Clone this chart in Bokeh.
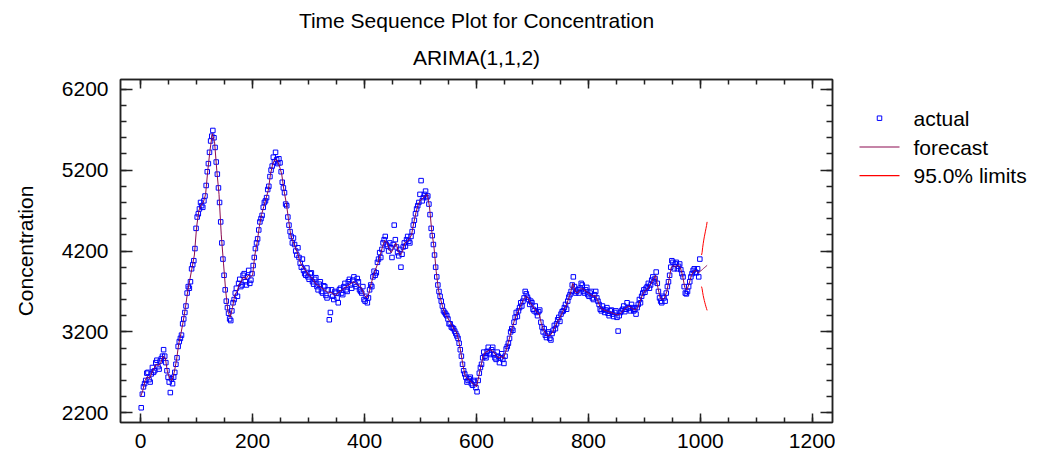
from bokeh.plotting import figure
from bokeh.models import Range1d, LinearAxis, Title, FixedTicker
from bokeh.core.properties import value
from bokeh.layouts import row
from bokeh.embed import file_html
from bokeh.resources import INLINE

# ---------------- data ----------------
# observed series (every 2nd period, read from the chart)
actual_time = list(range(1, 1000, 2))
actual = [
    2262, 2430, 2520, 2560, 2600, 2690, 2700, 2610, 2580, 2680, 2760, 2700, 2720, 2820, 2850, 2770, 2740, 2840, 2870, 2900,
    2980, 2900, 2820, 2720, 2640, 2580, 2450, 2620, 2560, 2640, 2700, 2800, 2880, 3020, 3080, 3120, 3160, 3300, 3360, 3440,
    3520, 3680, 3760, 3740, 3820, 3980, 4030, 4080, 4230, 4480, 4620, 4660, 4720, 4800, 4760, 4740, 4820, 4880, 5010, 5180,
    5280, 5420, 5560, 5620, 5690, 5600, 5480, 5300, 5150, 4980, 4800, 4560, 4300, 4100, 3900, 3720, 3580, 3500, 3430, 3360,
    3340, 3460, 3560, 3600, 3680, 3740, 3640, 3800, 3850, 3760, 3780, 3900, 3920, 3820, 3780, 3880, 3960, 3800, 3840, 3920,
    4020, 4120, 4230, 4300, 4350, 4460, 4560, 4600, 4640, 4740, 4800, 4820, 4860, 4960, 5000, 5120, 5200, 5250, 5360, 5300,
    5420, 5330, 5280, 5340, 5290, 5180, 5050, 4980, 4920, 4780, 4760, 4620, 4520, 4440, 4380, 4300, 4360, 4280, 4200, 4150,
    4240, 4120, 4050, 4000, 4100, 3960, 3920, 3900, 3990, 3880, 3850, 3920, 3930, 3820, 3790, 3850, 3870, 3760, 3720, 3790,
    3820, 3700, 3680, 3770, 3760, 3650, 3620, 3720, 3350, 3440, 3720, 3640, 3600, 3700, 3680, 3620, 3560, 3720, 3740, 3680,
    3660, 3760, 3800, 3720, 3700, 3820, 3850, 3780, 3740, 3840, 3880, 3790, 3760, 3860, 3820, 3720, 3700, 3680, 3760, 3600,
    3580, 3640, 3560, 3620, 3720, 3780, 3760, 3880, 3950, 3900, 3930, 4060, 4100, 4180, 4120, 4220, 4300, 4340, 4380, 4280,
    4260, 4200, 4300, 4240, 4120, 4280, 4520, 4340, 4250, 4180, 4140, 4220, 4000, 4160, 4250, 4300, 4260, 4340, 4380, 4320,
    4300, 4380, 4440, 4520, 4580, 4660, 4720, 4760, 4800, 4900, 5070, 4820, 4860, 4900, 4940, 4860, 4880, 4780, 4650, 4480,
    4390, 4280, 4150, 4000, 3880, 3780, 3700, 3640, 3580, 3520, 3460, 3440, 3420, 3400, 3360, 3300, 3300, 3260, 3250, 3240,
    3210, 3180, 3150, 3120, 3060, 2980, 2900, 2800, 2720, 2680, 2640, 2580, 2600, 2620, 2640, 2560, 2540, 2600, 2580, 2510,
    2460, 2600, 2690, 2760, 2800, 2880, 2950, 2900, 2880, 2960, 3010, 2940, 2920, 2980, 3010, 2920, 2880, 2860, 2950, 2900,
    2820, 2880, 2930, 2860, 2810, 2900, 2990, 3020, 3060, 3120, 3200, 3240, 3220, 3320, 3380, 3440, 3390, 3460, 3500, 3560,
    3520, 3580, 3620, 3700, 3670, 3630, 3600, 3540, 3580, 3560, 3480, 3460, 3520, 3440, 3400, 3450, 3470, 3320, 3260, 3200,
    3240, 3160, 3130, 3180, 3200, 3120, 3100, 3180, 3220, 3280, 3240, 3300, 3350, 3380, 3330, 3420, 3450, 3460, 3500, 3540,
    3480, 3580, 3630, 3660, 3700, 3780, 3880, 3760, 3680, 3700, 3720, 3680, 3740, 3800, 3780, 3700, 3680, 3720, 3750, 3660,
    3640, 3680, 3700, 3620, 3600, 3660, 3700, 3620, 3580, 3540, 3480, 3460, 3520, 3480, 3440, 3470, 3500, 3430, 3400, 3460,
    3470, 3420, 3390, 3440, 3460, 3380, 3210, 3400, 3440, 3460, 3480, 3520, 3450, 3480, 3560, 3500, 3490, 3460, 3540, 3500,
    3460, 3480, 3420, 3500, 3540, 3600, 3560, 3640, 3680, 3720, 3690, 3740, 3760, 3800, 3740, 3780, 3840, 3880, 3820, 3860,
    3940, 3800, 3700, 3620, 3580, 3560, 3640, 3620, 3580, 3680, 3760, 3820, 3900, 4000, 4080, 4060, 3980, 4040, 4060, 3980,
    4010, 4040, 3970, 3920, 3880, 3760, 3680, 3670, 3700, 3760, 3820, 3880, 3920, 3960, 3980, 3940, 3930, 3980, 3880, 4100,
]

# one-step-ahead forecasts (every 4th period)
forecast_time = list(range(0, 1001, 4))
forecast = [
    2400, 2480, 2600, 2650, 2620, 2700, 2750, 2800, 2780, 2820,
    2900, 2880, 2700, 2620, 2600, 2700, 2850, 3050, 3180, 3330,
    3500, 3700, 3850, 4000, 4150, 4500, 4700, 4770, 4800, 4900,
    5200, 5450, 5650, 5550, 5200, 4900, 4400, 4050, 3700, 3450,
    3380, 3500, 3650, 3700, 3780, 3830, 3880, 3850, 3900, 3880,
    3900, 4150, 4300, 4500, 4650, 4750, 4850, 4950, 5150, 5280,
    5330, 5320, 5250, 5150, 4950, 4800, 4600, 4400, 4320, 4250,
    4180, 4080, 4020, 3980, 3950, 3900, 3880, 3850, 3800, 3780,
    3760, 3740, 3720, 3700, 3680, 3690, 3670, 3650, 3680, 3700,
    3720, 3740, 3760, 3780, 3800, 3820, 3800, 3780, 3760, 3720,
    3650, 3620, 3680, 3800, 3900, 3980, 4050, 4150, 4250, 4330,
    4300, 4220, 4180, 4250, 4300, 4200, 4150, 4200, 4300, 4320,
    4350, 4400, 4550, 4680, 4780, 4830, 4850, 4880, 4900, 4750,
    4450, 4250, 3950, 3720, 3600, 3500, 3420, 3380, 3330, 3280,
    3230, 3200, 3100, 2950, 2780, 2650, 2620, 2600, 2570, 2550,
    2520, 2650, 2780, 2900, 2950, 2960, 2980, 2970, 2940, 2900,
    2880, 2900, 2870, 2950, 3050, 3150, 3250, 3350, 3420, 3480,
    3540, 3600, 3640, 3620, 3560, 3520, 3480, 3440, 3420, 3300,
    3220, 3180, 3150, 3160, 3200, 3260, 3320, 3360, 3420, 3480,
    3520, 3600, 3680, 3800, 3700, 3680, 3720, 3740, 3720, 3700,
    3680, 3660, 3640, 3650, 3600, 3520, 3480, 3470, 3460, 3450,
    3440, 3430, 3420, 3410, 3420, 3450, 3480, 3500, 3520, 3500,
    3480, 3470, 3500, 3580, 3650, 3700, 3720, 3760, 3800, 3850,
    3900, 3750, 3620, 3600, 3620, 3700, 3850, 4000, 4020, 4000,
    4030, 4000, 3900, 3750, 3720, 3800, 3900, 3950, 3960, 3930,
    3950,
]

# out-of-sample forecasts and 95% limits
future_time = [1000, 1001, 1002, 1003, 1004, 1005, 1006, 1007, 1008, 1009, 1010, 1011, 1012]
future_forecast = [3950, 3955, 3962, 3968, 3975, 3981, 3987, 3993, 3999, 4005, 4011, 4017, 4023]
limit_time = [1002, 1003, 1004, 1005, 1006, 1007, 1008, 1009, 1010, 1011, 1012]
upper_limit = [4150, 4180, 4240, 4290, 4335, 4375, 4410, 4445, 4480, 4515, 4560]
lower_limit = [3760, 3734, 3690, 3650, 3618, 3588, 3560, 3535, 3510, 3488, 3466]

legend_labels = ["actual", "forecast", "95.0% limits"]

x_ticks = [0, 200, 400, 600, 800, 1000, 1200]
x_minor = list(range(0, 1201, 50))
y_ticks = [2200, 3200, 4200, 5200, 6200]
y_minor = list(range(2200, 6201, 200))

FONT = "Liberation Sans"
FS = "21px"
AXC = "#222222"
ACT_C = "#0000FF"
FC_C = "#8B0A50"
LIM_C = "#FF0000"

p = figure(width=835, height=452, output_backend="svg", toolbar_location=None,
           title=None,
           x_range=Range1d(-36, 1236), y_range=Range1d(2080, 6320),
           min_border_left=120, min_border_right=3, min_border_top=79,
           min_border_bottom=30)
p.background_fill_color = "white"
p.border_fill_color = "white"
p.outline_line_color = AXC
p.outline_line_width = 1.5
p.xgrid.visible = False
p.ygrid.visible = False

r_act = p.scatter(actual_time, actual, marker="square", size=4.5,
                  fill_color=None, line_color=ACT_C, line_width=1)
r_fc = p.line(forecast_time, forecast, line_color=FC_C, line_width=1)
r_fc2 = p.line(future_time, future_forecast, line_color=FC_C, line_width=1)
r_up = p.line(limit_time, upper_limit, line_color=LIM_C, line_width=1)
r_lo = p.line(limit_time, lower_limit, line_color=LIM_C, line_width=1)


def style_axis(ax, ticks, minor, tick_in, minor_in, show_labels):
    ax.ticker = FixedTicker(ticks=ticks, minor_ticks=minor)
    ax.axis_line_color = AXC
    ax.axis_line_width = 1.5
    ax.major_tick_line_color = AXC
    ax.minor_tick_line_color = AXC
    ax.major_tick_line_width = 1.5
    ax.minor_tick_line_width = 1.5
    ax.major_tick_in = tick_in
    ax.major_tick_out = 0
    ax.minor_tick_in = minor_in
    ax.minor_tick_out = 0
    if show_labels:
        ax.major_label_text_font = FONT
        ax.major_label_text_font_size = FS
        ax.major_label_text_color = "black"
    else:
        ax.major_label_text_font_size = "0px"
        ax.major_label_standoff = 0
        ax.major_label_text_color = None


xa = p.xaxis[0]
style_axis(xa, x_ticks, x_minor, 9, 5, True)
xa.major_label_standoff = 11
xa.major_label_text_line_height = 1.0

ya = p.yaxis[0]
style_axis(ya, y_ticks, y_minor, 12, 6, True)
ya.major_label_standoff = 12
ya.axis_label = "Concentration"
ya.axis_label_text_font = FONT
ya.axis_label_text_font_size = FS
ya.axis_label_text_font_style = "normal"
ya.axis_label_text_color = "black"
ya.axis_label_standoff = 22

top_ax = LinearAxis()
style_axis(top_ax, x_ticks, x_minor, 9, 5, False)
p.add_layout(top_ax, "above")

right_ax = LinearAxis()
style_axis(right_ax, y_ticks, y_minor, 12, 6, False)
p.add_layout(right_ax, "right")

sub = Title(text="ARIMA(1,1,2)", align="center", text_font=FONT,
            text_font_size=FS, text_font_style="normal", text_color="black",
            standoff=22)
p.add_layout(sub, "above")
main = Title(text="Time Sequence Plot for Concentration", align="center",
             text_font=FONT, text_font_size=FS, text_font_style="normal",
             text_color="black", standoff=2)
p.add_layout(main, "above")

# ---- legend panel: an axis-less figure to the right of the plot ----
# its frame is aligned with the main plot's frame (page rows 79..422), so the
# y range is set to those page rows (top-down) and x to page columns 835..1037
q = figure(width=202, height=452, output_backend="svg", toolbar_location=None,
           x_axis_type=None, y_axis_type=None, x_range=Range1d(0, 202),
           y_range=Range1d(422, 79), min_border=0)
q.outline_line_color = None
q.background_fill_color = "white"
q.border_fill_color = "white"

swatch_x = [24, 64]
label_x = 78
row_y = [117.7, 146.5, 175.2]

q.scatter([sum(swatch_x) / 2], [row_y[0]], marker="square", size=4.5,
          fill_color=None, line_color=ACT_C, line_width=1)
q.line(swatch_x, [row_y[1], row_y[1]], line_color=FC_C, line_width=1.2)
q.line(swatch_x, [row_y[2], row_y[2]], line_color=LIM_C, line_width=1.2)
q.text(x=[label_x] * 3, y=row_y, text=legend_labels,
       text_font=value(FONT), text_font_size=value(FS), text_color="black",
       text_baseline="middle", text_align="left")

layout = row(p, q)
open("out.html", "w").write(file_html(layout, INLINE))
